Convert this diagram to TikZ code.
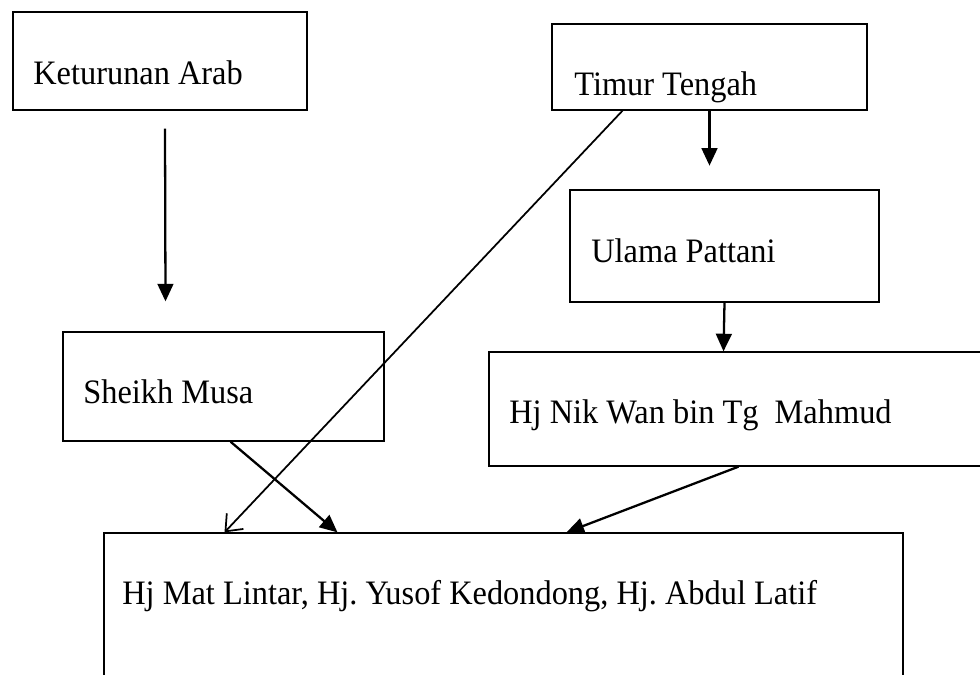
\documentclass[tikz,border=0pt]{standalone}
\usepackage{fontspec}
\setmainfont{Liberation Serif}[FakeStretch=0.945]
\usetikzlibrary{arrows.meta,fit,calc}

\tikzset{
  box/.style={draw, line width=0.75pt, inner sep=0pt},
  txt/.style={anchor=base west, inner sep=0pt, font=\fontsize{19.5}{22}\selectfont},
  link/.style={line width=1.3pt, -{Triangle[length=10pt,width=9pt]}},
  thinlink/.style={line width=1pt, -{Straight Barb[length=8pt,width=13pt]}}
}

\begin{document}
\frenchspacing
\begin{tikzpicture}[x=0.02cm,y=-0.02cm]
  \useasboundingbox (0,0) rectangle (980,674);
  % boxes
  \node (arab) [box, fit={(13,12) (307,110)}] {};
  \node (timur) [box, fit={(552,24) (867,110)}] {};
  \node (ulama) [box, fit={(570,190) (879,302)}] {};
  \node (musa) [box, fit={(63,332) (384,441)}] {};
  \node (nikwan) [box, fit={(489,352) (992,466)}] {};
  \node (murid) [box, fit={(104,533) (903,692)}] {};
  % texts
  \node (arabtxt) [txt] at (33,84) {Keturunan Arab};
  \node (timurtxt) [txt] at (574,95) {Timur Tengah};
  \node (ulamatxt) [txt] at (591,262) {Ulama Pattani};
  \node (musatxt) [txt] at (83,403) {Sheikh Musa};
  \node (nikwantxt) [txt] at (509,423) {Hj Nik Wan bin Tg\ \ Mahmud};
  \node (muridtxt) [txt] at (122,604) {Hj Mat Lintar, Hj. Yusof Kedondong, Hj. Abdul Latif};
  % free ends
  \coordinate (arabend) at ($(arab.south)+(5,18)$);
  \coordinate (musatop) at ($(musa.north)+(-58,-30)$);
  \coordinate (ulamatop) at ($(timur.south)+(0,55)$);
  % arrows
  \draw[link] (arabend) -- (musatop);
  \draw[link] (timur.south) -- (ulamatop);
  \draw[link] (ulama.south) -- ($(nikwan.north)+(-17,0)$);
  \draw[link] ($(musa.south)+(7,0)$) -- ($(murid.north)+(-166,0)$);
  \draw[link] ($(nikwan.south)+(-2,0)$) -- ($(murid.north)+(63,0)$);
  \draw[thinlink] ($(timur.south)+(-87,0)$) -- ($(murid.north)+(-279,0)$);
\end{tikzpicture}
\end{document}
